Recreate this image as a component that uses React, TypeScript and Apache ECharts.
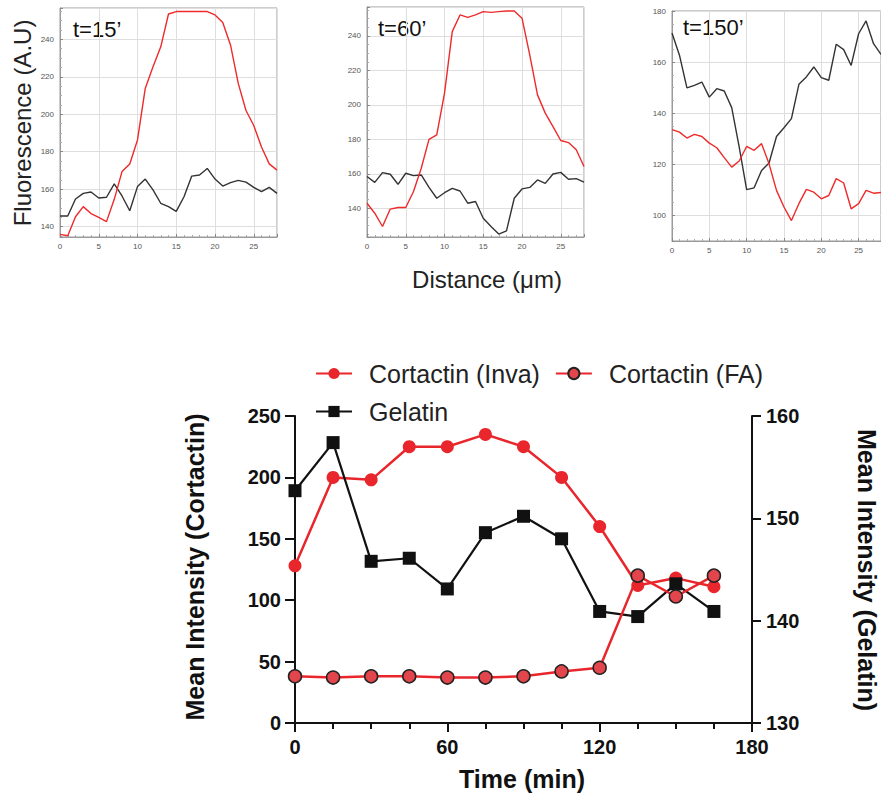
import React, { useEffect, useRef } from "react";
import * as echarts from "echarts";

// ---------- Top panels: line profiles along distance (µm) ----------
const distance = [0, 1, 2, 3, 4, 5, 6, 7, 8, 9, 10, 11, 12, 13, 14, 15, 16, 17, 18, 19, 20, 21, 22, 23, 24, 25, 26, 27, 28];

const t15Cortactin = [135.9, 135.2, 145.3, 150.7, 147.0, 145.0, 142.7, 154.6, 169.4, 173.5, 186.3, 213.8, 225.4, 236.0, 253.5, 254.8, 254.8, 254.8, 254.8, 254.8, 253.0, 249.0, 237.0, 216.5, 202.0, 194.0, 182.5, 173.5, 170.2];
const t15Gelatin = [145.7, 145.7, 154.8, 157.8, 158.5, 155.3, 155.7, 162.8, 156.4, 148.5, 161.4, 165.4, 159.6, 152.5, 150.7, 148.2, 156.0, 167.0, 167.6, 171.1, 165.4, 161.7, 163.5, 164.7, 163.8, 161.0, 158.7, 161.0, 157.8];

const t60Cortactin = [142.9, 137.1, 129.4, 139.5, 140.4, 140.4, 149.7, 163.2, 180.0, 182.6, 206.7, 242.5, 252.2, 250.8, 252.2, 254.1, 253.7, 254.1, 254.5, 254.5, 250.3, 229.0, 205.8, 195.2, 187.4, 179.3, 178.1, 173.9, 164.2];
const t60Gelatin = [158.4, 155.0, 160.7, 159.7, 153.9, 160.3, 158.9, 159.3, 152.1, 145.8, 149.0, 151.5, 150.0, 142.9, 143.9, 134.2, 129.4, 125.0, 126.9, 145.8, 151.2, 152.1, 156.4, 154.4, 159.9, 160.8, 156.8, 157.2, 155.2];

const t150Cortactin = [133.6, 132.6, 130.3, 131.7, 130.9, 128.3, 126.5, 122.6, 118.9, 121.3, 127.0, 125.5, 128.1, 120.2, 109.8, 103.3, 98.0, 104.6, 110.2, 109.1, 106.5, 107.8, 114.4, 112.7, 102.6, 104.6, 109.8, 108.7, 109.0];
const t150Gelatin = [171.4, 162.7, 149.9, 150.9, 152.2, 146.3, 149.6, 148.7, 142.2, 126.8, 110.1, 110.8, 117.6, 120.5, 130.9, 134.3, 137.9, 151.3, 154.2, 158.1, 153.9, 152.9, 167.0, 164.9, 158.7, 171.1, 176.1, 167.2, 163.0];

const panelLabels = ["t=15\u2019", "t=60\u2019", "t=150\u2019"];
const panelYRanges = [
  [134.5, 256.7],
  [123.3, 256.8],
  [90, 180],
];

// ---------- Bottom chart: mean intensities over time ----------
const timeMin = [0, 15, 30, 45, 60, 75, 90, 105, 120, 135, 150, 165];
const cortactinInva = [128, 200, 198, 225, 225, 235, 225, 200, 160, 112, 118, 111];
const cortactinFA = [38, 37, 38, 38, 37, 37, 38, 42, 45, 120, 103, 120];
const gelatin = [152.7, 157.4, 145.8, 146.1, 143.1, 148.6, 150.2, 148.0, 140.9, 140.4, 143.6, 140.9];

const seriesNames = ["Cortactin (Inva)", "Cortactin (FA)", "Gelatin"];

const RED = "#e8262c";
const FONT = "'Liberation Sans', Arial, sans-serif";

export default function App() {
  const ref = useRef<HTMLDivElement>(null);

  useEffect(() => {
    if (!ref.current) return;
    const chart = echarts.init(ref.current, undefined, { renderer: "svg" });

    const panelGrids = [
      { left: 60, top: 8, width: 217, height: 229 },
      { left: 367, top: 7, width: 217, height: 230 },
      { left: 672, top: 11, width: 217, height: 230 },
    ];
    const profiles = [
      [t15Cortactin, t15Gelatin],
      [t60Cortactin, t60Gelatin],
      [t150Cortactin, t150Gelatin],
    ];

    const grids: any[] = panelGrids.map((g) => ({
      ...g,
      show: true,
      borderColor: "#9a9a9a",
      borderWidth: 1,
      backgroundColor: "transparent",
    }));
    grids.push({ left: 295, top: 416, width: 457, height: 307 });

    const smallLabel = { fontSize: 8, color: "#555", fontFamily: FONT };

    const xAxes: any[] = panelGrids.map((_, i) => ({
      type: "value",
      gridIndex: i,
      min: 0,
      max: 28,
      interval: 5,
      axisLine: { show: true, lineStyle: { color: "#9a9a9a", width: 1 } },
      axisTick: { show: true, inside: true, length: 3, lineStyle: { color: "#888" } },
      minorTick: { show: true, splitNumber: 5, length: 2, lineStyle: { color: "#aaa" } },
      splitLine: { show: true, lineStyle: { color: "#dedede", width: 1 } },
      axisLabel: { ...smallLabel, margin: 5, showMaxLabel: false },
    }));
    xAxes.push({
      type: "value",
      gridIndex: 3,
      min: 0,
      max: 180,
      interval: 60,
      axisLine: { show: true, onZero: false, lineStyle: { color: "#111", width: 2 } },
      axisTick: { show: true, length: 9, lineStyle: { color: "#111", width: 2 } },
      minorTick: { show: true, splitNumber: 4, length: 6, lineStyle: { color: "#111", width: 2 } },
      splitLine: { show: false },
      axisLabel: { fontSize: 20, fontWeight: "bold", color: "#111", fontFamily: FONT, margin: 14 },
    });

    const yAxes: any[] = panelGrids.map((_, i) => ({
      type: "value",
      gridIndex: i,
      min: panelYRanges[i][0],
      max: panelYRanges[i][1],
      splitNumber: 6,
      minInterval: 20,
      maxInterval: 20,
      axisLine: { show: true, lineStyle: { color: "#9a9a9a", width: 1 } },
      axisTick: { show: true, inside: true, length: 3, lineStyle: { color: "#888" } },
      minorTick: { show: true, splitNumber: 4, length: 2, lineStyle: { color: "#aaa" } },
      splitLine: { show: true, lineStyle: { color: "#dedede", width: 1 } },
      axisLabel: { ...smallLabel, margin: 6, showMinLabel: false, showMaxLabel: i === 2 },
    }));
    yAxes.push({
      type: "value",
      gridIndex: 3,
      position: "left",
      min: 0,
      max: 250,
      interval: 50,
      axisLine: { show: true, lineStyle: { color: "#111", width: 2 } },
      axisTick: { show: true, length: 10, lineStyle: { color: "#111", width: 2 } },
      splitLine: { show: false },
      axisLabel: { fontSize: 20, fontWeight: "bold", color: "#111", fontFamily: FONT, margin: 14 },
    });
    yAxes.push({
      type: "value",
      gridIndex: 3,
      position: "right",
      min: 130,
      max: 160,
      interval: 10,
      axisLine: { show: true, lineStyle: { color: "#111", width: 2 } },
      axisTick: { show: true, length: 9, lineStyle: { color: "#111", width: 2 } },
      splitLine: { show: false },
      axisLabel: { fontSize: 20, fontWeight: "bold", color: "#111", fontFamily: FONT, margin: 14 },
    });

    const series: any[] = [];
    profiles.forEach((pair, i) => {
      series.push({
        type: "line",
        name: "profile-cortactin-" + i,
        xAxisIndex: i,
        yAxisIndex: i,
        showSymbol: false,
        silent: true,
        lineStyle: { color: "#ee2a2a", width: 1.4 },
        data: distance.map((d, k) => [d, pair[0][k]]),
        z: 3,
      });
      series.push({
        type: "line",
        name: "profile-gelatin-" + i,
        xAxisIndex: i,
        yAxisIndex: i,
        showSymbol: false,
        silent: true,
        lineStyle: { color: "#333", width: 1.4 },
        data: distance.map((d, k) => [d, pair[1][k]]),
        z: 2,
      });
    });

    series.push({
      type: "line",
      name: seriesNames[0],
      xAxisIndex: 3,
      yAxisIndex: 3,
      symbol: "circle",
      symbolSize: 13,
      lineStyle: { color: RED, width: 2.5 },
      itemStyle: { color: RED },
      data: timeMin.map((t, k) => [t, cortactinInva[k]]),
      z: 3,
    });
    series.push({
      type: "line",
      name: seriesNames[2],
      xAxisIndex: 3,
      yAxisIndex: 4,
      symbol: "rect",
      symbolSize: 13,
      lineStyle: { color: "#111", width: 2.2 },
      itemStyle: { color: "#111" },
      data: timeMin.map((t, k) => [t, gelatin[k]]),
      z: 4,
    });
    series.push({
      type: "line",
      name: seriesNames[1],
      xAxisIndex: 3,
      yAxisIndex: 3,
      symbol: "circle",
      symbolSize: 13,
      lineStyle: { color: RED, width: 2.5 },
      itemStyle: { color: "#e2454b", borderColor: "#222", borderWidth: 1.5 },
      data: timeMin.map((t, k) => [t, cortactinFA[k]]),
      z: 5,
    });

    const legendText = { fontSize: 25, color: "#222", fontFamily: FONT, padding: [0, 0, 0, 12] };

    const titleFont = "bold 25px " + FONT;
    const graphic: any[] = [
      {
        type: "text",
        x: 22,
        y: 123,
        rotation: Math.PI / 2,
        style: { text: "Fluorescence (A.U)", font: "24px " + FONT, fill: "#222", align: "center", verticalAlign: "middle" },
      },
      {
        type: "text",
        x: 487,
        y: 279,
        style: { text: "Distance (\u03bcm)", font: "24px " + FONT, fill: "#222", align: "center", verticalAlign: "middle" },
      },
      {
        type: "text",
        x: 195,
        y: 567,
        rotation: Math.PI / 2,
        style: { text: "Mean Intensity (Cortactin)", font: titleFont, fill: "#111", align: "center", verticalAlign: "middle" },
      },
      {
        type: "text",
        x: 867,
        y: 570,
        rotation: -Math.PI / 2,
        style: { text: "Mean Intensity (Gelatin)", font: titleFont, fill: "#111", align: "center", verticalAlign: "middle" },
      },
      {
        type: "text",
        x: 522,
        y: 779,
        style: { text: "Time (min)", font: titleFont, fill: "#111", align: "center", verticalAlign: "middle" },
      },
    ];
    const tPos = [
      [73, 29],
      [378, 28],
      [683, 27],
    ];
    panelLabels.forEach((lab, i) => {
      graphic.push({
        type: "text",
        x: tPos[i][0],
        y: tPos[i][1],
        style: { text: lab, font: "22px " + FONT, fill: "#111", align: "left", verticalAlign: "middle" },
      });
    });

    chart.setOption({
      animation: false,
      backgroundColor: "#ffffff",
      grid: grids,
      xAxis: xAxes,
      yAxis: yAxes,
      series,
      legend: [
        {
          data: [seriesNames[0], seriesNames[1]],
          left: 315,
          top: 361,
          orient: "horizontal",
          itemWidth: 36,
          itemHeight: 14,
          itemGap: 15,
          padding: 0,
          selectedMode: false,
          textStyle: legendText,
        },
        {
          data: [seriesNames[2]],
          left: 315,
          top: 399,
          orient: "horizontal",
          itemWidth: 36,
          itemHeight: 14,
          padding: 0,
          selectedMode: false,
          textStyle: legendText,
        },
      ],
      graphic,
    });

    return () => chart.dispose();
  }, []);

  return (
    <div
      ref={ref}
      style={{ position: "absolute", left: 0, top: 0, width: 881, height: 796, background: "#fff" }}
    />
  );
}
